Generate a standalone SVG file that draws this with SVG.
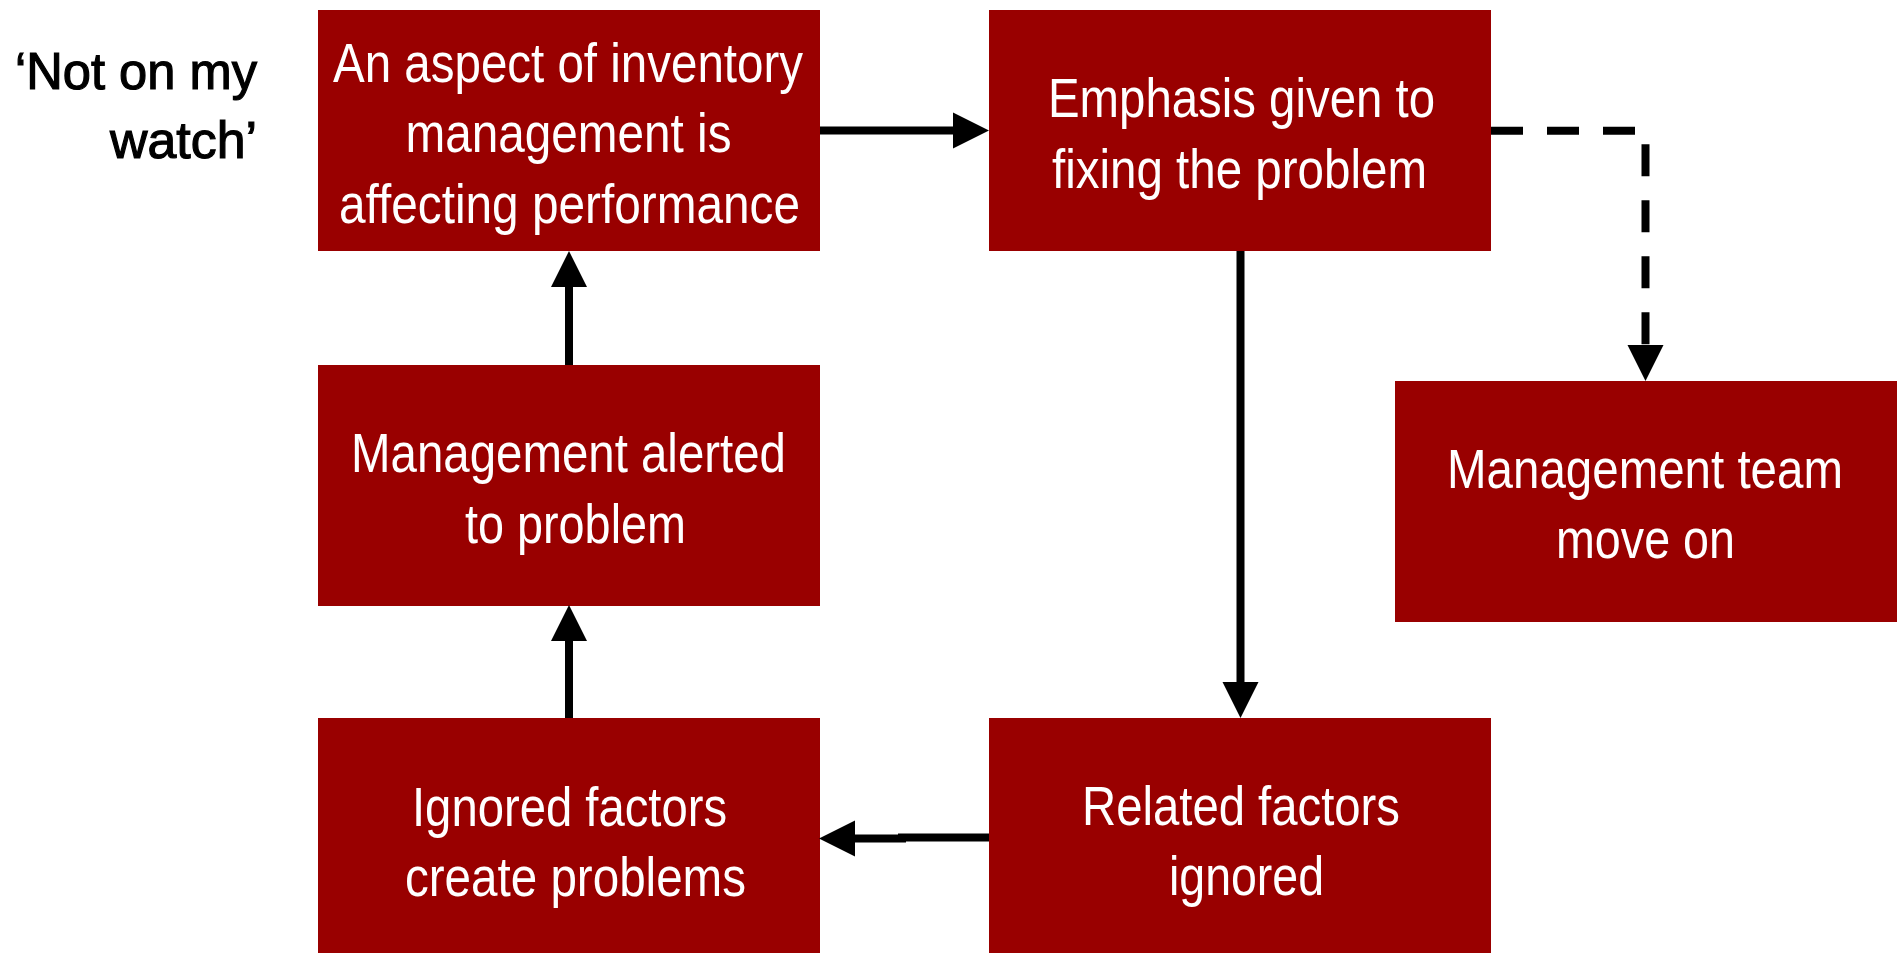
<svg xmlns="http://www.w3.org/2000/svg" width="1902" height="953" viewBox="0 0 1902 953">
<style>
.box{fill:#990000}
.lbl{font-family:"Liberation Sans Narrow","Liberation Sans",Arial,sans-serif;font-size:56px;fill:#ffffff;text-anchor:middle}
.side{font-family:"Liberation Sans Narrow","Liberation Sans",Arial,sans-serif;font-size:52px;fill:#000000;stroke:#000000;stroke-width:1.2;text-anchor:end}
.conn{fill:none;stroke:#000000;stroke-width:8;stroke-linecap:butt;stroke-linejoin:miter}
.dash{stroke-dasharray:32 24}
</style>
<defs>
<marker id="arrow" markerUnits="userSpaceOnUse" markerWidth="36" markerHeight="36" refX="0" refY="18" orient="auto" overflow="visible">
<path d="M0,0 L36,18 L0,36 Z" fill="#000000"/>
</marker>
</defs>
<rect width="1902" height="953" fill="#ffffff"/>
<g id="label-not-on-my-watch">
<text class="side" x="257" y="89" textLength="242" lengthAdjust="spacingAndGlyphs">‘Not on my</text>
<text class="side" x="257" y="158" textLength="147" lengthAdjust="spacingAndGlyphs">watch’</text>
</g>
<g id="node-aspect">
<rect class="box" x="318" y="10" width="502" height="241"/>
<text class="lbl" x="568" y="82" textLength="470" lengthAdjust="spacingAndGlyphs">An aspect of inventory</text>
<text class="lbl" x="568.5" y="152" textLength="326" lengthAdjust="spacingAndGlyphs">management is</text>
<text class="lbl" x="569.5" y="223" textLength="461" lengthAdjust="spacingAndGlyphs">affecting performance</text>
</g>
<g id="node-emphasis">
<rect class="box" x="989" y="10" width="502" height="241"/>
<text class="lbl" x="1241.5" y="117" textLength="387" lengthAdjust="spacingAndGlyphs">Emphasis given to</text>
<text class="lbl" x="1239.5" y="188" textLength="375" lengthAdjust="spacingAndGlyphs">fixing the problem</text>
</g>
<g id="node-alerted">
<rect class="box" x="318" y="365" width="502" height="241"/>
<text class="lbl" x="568.5" y="472" textLength="435" lengthAdjust="spacingAndGlyphs">Management alerted</text>
<text class="lbl" x="575.5" y="543" textLength="221" lengthAdjust="spacingAndGlyphs">to problem</text>
</g>
<g id="node-move-on">
<rect class="box" x="1395" y="381" width="502" height="241"/>
<text class="lbl" x="1645" y="488" textLength="396" lengthAdjust="spacingAndGlyphs">Management team</text>
<text class="lbl" x="1645.5" y="558" textLength="179" lengthAdjust="spacingAndGlyphs">move on</text>
</g>
<g id="node-ignored-factors">
<rect class="box" x="318" y="718" width="502" height="241"/>
<text class="lbl" x="569.5" y="826" textLength="315" lengthAdjust="spacingAndGlyphs">Ignored factors</text>
<text class="lbl" x="575.5" y="896" textLength="341" lengthAdjust="spacingAndGlyphs">create problems</text>
</g>
<g id="node-related-factors">
<rect class="box" x="989" y="718" width="502" height="241"/>
<text class="lbl" x="1241" y="825" textLength="318" lengthAdjust="spacingAndGlyphs">Related factors</text>
<text class="lbl" x="1246.5" y="895" textLength="155" lengthAdjust="spacingAndGlyphs">ignored</text>
</g>
<g id="connectors">
<path class="conn" d="M820,130.5 H953" marker-end="url(#arrow)"/>
<path class="conn dash" d="M1491,130.7 H1645.5 V345" marker-end="url(#arrow)"/>
<path class="conn" d="M1240.5,251 V682" marker-end="url(#arrow)"/>
<path class="conn" d="M989,837.5 H902 V838.5 H855" marker-end="url(#arrow)"/>
<path class="conn" d="M569,718 V641" marker-end="url(#arrow)"/>
<path class="conn" d="M569,365 V287" marker-end="url(#arrow)"/>
</g>
</svg>
